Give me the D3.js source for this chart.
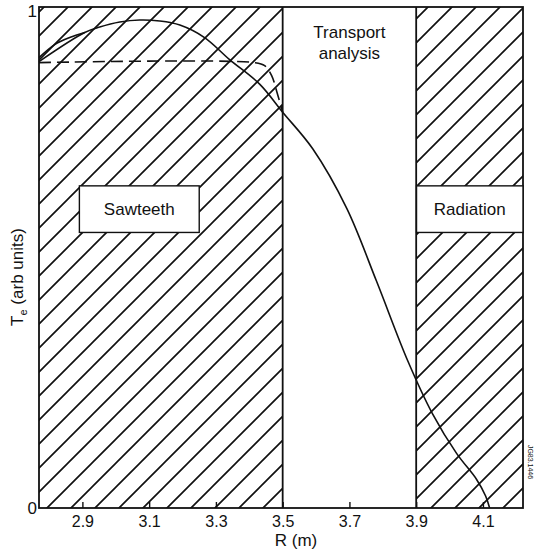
<!DOCTYPE html>
<html lang="en">
<head>
  <meta charset="UTF-8">
  <title>Te profile</title>
  <script src="https://d3js.org/d3.v7.min.js"></script>
  <style>
    body { margin: 0; background: #fff; }
    svg { display: block; font-family: "Liberation Sans", Arial, sans-serif; }
    .frame { fill: none; stroke: #111; stroke-width: 1.8; }
    .curve { fill: none; stroke: #111; stroke-width: 1.6; }
    .box { fill: #fff; stroke: #111; stroke-width: 1.4; }
    .lbl { font-size: 17px; fill: #111; }
  </style>
</head>
<body>
  <svg width="535" height="549"></svg>

  <script>
    // x ticks (R in m)
    const xTicks = [2.9, 3.1, 3.3, 3.5, 3.7, 3.9, 4.1];
    // regions along R
    const regions = [
      {name: "Sawteeth", from: 2.77, to: 3.5, hatch: true},
      {name: "Transport analysis", from: 3.5, to: 3.9, hatch: false},
      {name: "Radiation", from: 3.9, to: 4.22, hatch: true}
    ];
    // solid Te profile
    const solidR = [2.770, 2.907, 2.952, 3.012, 3.072, 3.132, 3.192, 3.266, 3.341, 3.431, 3.500,
                    3.590, 3.692, 3.781, 3.874, 3.949, 4.021, 4.081, 4.108, 4.120];
    const solidT = [0.891, 0.949, 0.960, 0.970, 0.974, 0.972, 0.964, 0.939, 0.895, 0.846, 0.790,
                    0.717, 0.598, 0.453, 0.295, 0.188, 0.109, 0.057, 0.024, 0.0];
    // short upper branch at the left edge
    const branchR = [2.770, 2.817, 2.862, 2.907];
    const branchT = [0.899, 0.925, 0.939, 0.949];
    // dashed flattened profile
    const dashR = [2.770, 3.416, 3.446, 3.467, 3.482, 3.500];
    const dashT = [0.889, 0.889, 0.883, 0.863, 0.832, 0.790];

    const svg = d3.select("svg"),
          margin = {top: 7, right: 12, bottom: 41, left: 39},
          width = +svg.attr("width") - margin.left - margin.right,
          height = +svg.attr("height") - margin.top - margin.bottom,
          chart = svg.append("g").attr("transform", `translate(${margin.left},${margin.top})`);

    const x = d3.scaleLinear().domain([2.77, 4.22]).range([0, width]);
    const y = d3.scaleLinear().domain([0, 1]).range([height, 0]);

    // hatch pattern
    const defs = svg.append("defs");
    const pat = defs.append("pattern")
      .attr("id", "hatch")
      .attr("patternUnits", "userSpaceOnUse")
      .attr("width", 24).attr("height", 24)
      .attr("patternTransform", "translate(5,0)");
    pat.append("path")
      .attr("d", "M-6,6 L6,-6 M0,24 L24,0 M18,30 L30,18")
      .attr("stroke", "#111").attr("stroke-width", 1.7);

    chart.selectAll(".region")
      .data(regions.filter(d => d.hatch))
      .enter().append("rect")
      .attr("class", "region")
      .attr("x", d => x(d.from))
      .attr("y", 0)
      .attr("width", d => x(d.to) - x(d.from))
      .attr("height", height)
      .attr("fill", "url(#hatch)");

    // profiles
    const line = d3.line().x(d => x(d[0])).y(d => y(d[1])).curve(d3.curveCatmullRom);
    chart.append("path").attr("class", "curve").attr("d", line(d3.zip(solidR, solidT)));
    chart.append("path").attr("class", "curve").attr("d", line(d3.zip(branchR, branchT)));
    chart.append("path").attr("class", "curve").attr("stroke-dasharray", "12,6")
      .attr("d", line(d3.zip(dashR, dashT)));

    // region boundaries and frame
    chart.selectAll(".bound")
      .data([3.5, 3.9])
      .enter().append("line")
      .attr("class", "frame")
      .attr("x1", d => x(d)).attr("x2", d => x(d))
      .attr("y1", 0).attr("y2", height);
    chart.append("rect").attr("class", "frame").attr("width", width).attr("height", height);

    // label boxes
    const sawBox = [2.891, 3.250, 0.643, 0.550];
    chart.append("rect").attr("class", "box")
      .attr("x", x(sawBox[0])).attr("y", y(sawBox[2]))
      .attr("width", x(sawBox[1]) - x(sawBox[0])).attr("height", y(sawBox[3]) - y(sawBox[2]));
    chart.append("text").attr("class", "lbl").attr("text-anchor", "middle")
      .attr("x", x((sawBox[0] + sawBox[1]) / 2)).attr("y", y((sawBox[2] + sawBox[3]) / 2) + 6)
      .text("Sawteeth");

    const radBox = [3.901, 4.22, 0.643, 0.550];
    chart.append("rect").attr("class", "box")
      .attr("x", x(radBox[0])).attr("y", y(radBox[2]))
      .attr("width", x(radBox[1]) - x(radBox[0])).attr("height", y(radBox[3]) - y(radBox[2]));
    chart.append("text").attr("class", "lbl").attr("text-anchor", "middle")
      .attr("x", x((radBox[0] + radBox[1]) / 2)).attr("y", y((radBox[2] + radBox[3]) / 2) + 6)
      .text("Radiation");

    const tx = chart.append("text").attr("class", "lbl").attr("text-anchor", "middle");
    tx.append("tspan").attr("x", x(3.7)).attr("y", 31).text("Transport");
    tx.append("tspan").attr("x", x(3.7)).attr("y", 52).text("analysis");

    // x axis
    const xAxis = chart.append("g")
      .attr("transform", `translate(0,${height})`)
      .call(d3.axisBottom(x).tickValues(xTicks).tickSizeInner(-6).tickSizeOuter(0).tickPadding(8).tickFormat(d3.format(".1f")));
    xAxis.select(".domain").remove();
    xAxis.selectAll("line").attr("stroke", "#111").attr("stroke-width", 1.4);
    xAxis.selectAll("text").attr("font-size", 16).attr("fill", "#111")
      .attr("font-family", "Liberation Sans, Arial, sans-serif");

    // y axis end labels
    chart.selectAll(".ylab")
      .data([0, 1])
      .enter().append("text").attr("class", "lbl")
      .attr("text-anchor", "end")
      .attr("x", -2)
      .attr("y", d => d === 1 ? y(d) + 10 : y(d) + 6)
      .text(d => d);

    svg.append("text").attr("class", "lbl").attr("text-anchor", "middle")
      .attr("font-size", 16)
      .attr("x", margin.left + x(3.54)).attr("y", 546)
      .text("R (m)");

    const yl = svg.append("text").attr("class", "lbl").attr("text-anchor", "middle")
      .attr("transform", `translate(23,277) rotate(-90)`);
    yl.append("tspan").text("T");
    yl.append("tspan").attr("font-size", 11).attr("dy", 4).text("e");
    yl.append("tspan").attr("dy", -4).text(" (arb units)");

    svg.append("text")
      .attr("transform", `translate(528,462) rotate(90)`)
      .attr("font-size", 7).attr("fill", "#111").attr("text-anchor", "middle")
      .text("JG83.1446");
  </script>
</body>
</html>
